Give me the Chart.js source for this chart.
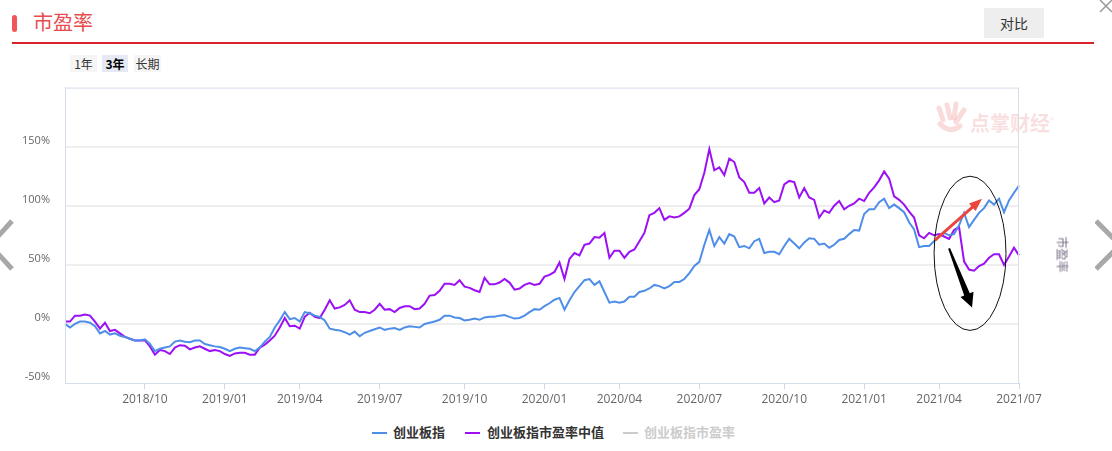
<!DOCTYPE html>
<html>
<head>
<meta charset="utf-8">
<script src="https://cdn.jsdelivr.net/npm/chart.js@4"></script>
<style>
  body { margin: 0; width: 1112px; height: 451px; background: #fff; overflow: hidden;
         font-family: "Microsoft YaHei", "Noto Sans CJK SC", sans-serif; position: relative; }
  .bar { position: absolute; left: 12px; top: 15px; width: 5px; height: 17px; border-radius: 3px; background: #f0575a; }
  .title { position: absolute; left: 33px; top: 9px; font-size: 20px; color: #e84c4f; line-height: 26px; }
  .rule { position: absolute; left: 12px; top: 42px; width: 1082px; height: 2px; background: #d9232b; }
  .cmp { position: absolute; left: 984px; top: 8px; width: 60px; height: 30px; background: #eeeeee;
         font-size: 14px; color: #333; line-height: 30px; text-align: center; }
  .tabs { position: absolute; left: 70px; top: 55px; font-size: 12px; color: #333; }
  .tabs span { position: absolute; top: 0; height: 17px; line-height: 17px; text-align: center; background: #f5f5f5; }
  .tabs .on { background: #e4e9f3; font-weight: bold; color: #000; }
  #wrap { position: absolute; left: 0; top: 66px; width: 1112px; height: 354px; }
  .mark { position: absolute; left: 970px; top: 108px; font-size: 20px; font-weight: bold; color: rgba(232,110,110,0.22); letter-spacing: 0; }
  .rlabel { position: absolute; left: 1045px; top: 246px; font-size: 12px; color: #7a6f86; transform: rotate(90deg); }
  .legend { position: absolute; top: 424px; left: 0; width: 1112px; font-size: 13px; font-weight: bold; color: #333; }
  .legend div { position: absolute; top: 0; height: 16px; line-height: 16px; }
  .legend i { position: absolute; top: 8px; width: 15px; height: 2px; }
</style>
</head>
<body>
<div class="bar"></div>
<div class="title">市盈率</div>
<div class="rule"></div>
<div class="cmp">对比</div>
<svg style="position:absolute;left:1099px;top:-1px" width="14" height="14"><path d="M1 1 L13 13 M13 1 L1 13" stroke="#999" stroke-width="1.5"/></svg>
<div class="tabs">
  <span style="left:0;width:27px">1年</span>
  <span class="on" style="left:32px;width:26px">3年</span>
  <span style="left:64px;width:27px">长期</span>
</div>
<svg style="position:absolute;left:0;top:218px" width="14" height="56"><polyline points="12,3 -10,27 12,51" fill="none" stroke="#a8a8a8" stroke-width="5"/></svg>
<svg style="position:absolute;left:1095px;top:218px" width="17" height="56"><polyline points="1,3 25,27 1,51" fill="none" stroke="#a8a8a8" stroke-width="5"/></svg>
<svg style="position:absolute;left:934px;top:100px" width="36" height="36"><g stroke="rgba(232,110,110,0.25)" stroke-width="5" stroke-linecap="round" fill="none"><path d="M5 8 L9 20"/><path d="M13 5 L16 18"/><path d="M22 4 L20 18"/><path d="M30 10 L22 22"/><path d="M6 24 Q16 34 26 26"/></g></svg>
<div class="mark">点掌财经<sup style="font-size:8px;font-weight:normal">®</sup></div>
<div id="wrap"><canvas id="pe"></canvas></div>
<div class="rlabel">市盈率</div>
<div class="legend">
  <i style="left:372px;background:#4f8ee8"></i><div style="left:393px">创业板指</div>
  <i style="left:465px;background:#9b10f5"></i><div style="left:487px">创业板指市盈率中值</div>
  <i style="left:623px;background:#cccccc"></i><div style="left:644px;color:#cccccc">创业板指市盈率</div>
</div>
<script>
// 创业板指 / 创业板指市盈率中值, % change, sampled across the 3-year window
const indexValues = [
    0, -3, 0, 2, 2, 1, -2, -8, -6, -9,
    -8, -10, -11, -12.5, -14, -14, -13, -17, -23, -21,
    -20, -19, -15, -14, -15, -15.5, -14, -14, -17, -18,
    -19, -19.5, -21, -23, -21, -20, -20.5, -21, -23, -20,
    -15, -11, -3, 3, 10, 4, 5, 2, 10, 9,
    7, 6, 3, -4, -5, -5.5, -7, -9, -6.5, -10.5,
    -7.5, -6, -4.5, -3, -5, -4, -3.5, -5, -3, -2,
    -2.5, -3, 0, 1, 2, 3.5, 7, 7, 5.5, 5,
    3, 3.5, 4.5, 3.5, 5.5, 6, 6, 7, 7.5, 6,
    4.5, 5, 7, 10, 12.5, 12, 15, 17.5, 20.5, 22,
    12, 20, 27, 32, 37, 38, 33, 36, 27, 18,
    19, 18, 19, 23, 23, 27, 28, 30, 33, 32,
    30, 32, 35.5, 35.5, 38, 43, 49, 52.5, 67, 79.5,
    66, 73.5, 68, 76, 74, 65, 66, 64, 70, 72,
    60, 61, 61, 59, 66, 72, 68, 64, 69, 72.5,
    72, 67, 68, 64.5, 67, 71, 72, 76, 79.5, 79,
    93, 97, 97, 103, 106, 98, 101, 98, 94.5, 86,
    80, 65, 66, 66, 70, 74, 77, 75, 76, 83.5,
    94, 82, 88, 94, 98, 104.5, 101, 106, 94.5, 104.5,
    111, 117
];
const medianPeValues = [
    2, 2, 7, 7, 8, 7, 2, -4, 1, -6,
    -5, -8, -11, -12.5, -14, -14, -14, -19, -26, -22,
    -23, -25.5, -20, -18, -18.5, -21.5, -20, -19, -21, -23,
    -22, -23, -25.5, -27, -25, -24.5, -24.5, -26, -26, -20,
    -17.5, -14, -10, -3, 5, -2, -1.5, -4, 6, 9.5,
    6, 5, 12, 20, 13, 14, 16, 20, 12, 10,
    10, 9, 12, 17, 12, 12.5, 10, 13.5, 15, 15,
    12.5, 13, 17, 24, 24.5, 28, 34, 34, 33, 37,
    31.5, 30.5, 28.5, 27, 39, 33.5, 33.5, 35, 38, 35,
    29, 30, 33, 34.5, 33, 34, 40, 41.5, 44, 52,
    38, 55, 60, 58, 67, 68, 73.5, 73, 77, 56,
    62, 62, 56, 61, 63, 70, 77, 92, 94, 98,
    88, 91, 90, 91, 94, 97.5, 109, 114, 128, 148,
    130, 132.5, 126, 140, 137, 124, 120, 111, 111, 115,
    102, 107, 103, 104.5, 118, 121, 120, 107, 115, 107,
    105, 90, 96, 94, 100, 104, 97, 100, 102, 106,
    104, 111, 115.5, 121.5, 129, 123, 108, 105, 101, 95,
    90, 75, 72.5, 77, 75, 76, 74, 72, 79.5, 82,
    53, 46, 45, 49, 51, 56, 59, 59, 50, 57,
    64.5, 58
];
const tickLabels = ['2018/10', '2019/01', '2019/04', '2019/07', '2019/10', '2020/01',
                    '2020/04', '2020/07', '2020/10', '2021/01', '2021/04', '2021/07'];
const tickIndex = [16, 32, 47, 63, 80, 96, 111, 127, 144, 160, 175, 191];

const labels = indexValues.map((_, i) => {
    const k = tickIndex.indexOf(i);
    return k >= 0 ? tickLabels[k] : '';
});

// hand-drawn marks on the right (in data units)
const ovalBox = { i0: 174, i1: 188.4, top: 125, bottom: -5.5 };
const redArrow = { i0: 174.2, v0: 71, i1: 183.6, v1: 106 };
const blackArrow = { i0: 177, v0: 64, i1: 181.6, v1: 14 };

const framePlugin = {
    id: 'frame',
    afterDraw(chart) {
        const { ctx, chartArea: a, scales: { x, y } } = chart;
        ctx.save();
        ctx.strokeStyle = '#d6deec';
        ctx.lineWidth = 1;
        ctx.strokeRect(a.left + 0.5, a.top + 0.5, a.right - a.left - 1, a.bottom - a.top);

        // oval
        const cx = (x.getPixelForValue(ovalBox.i0) + x.getPixelForValue(ovalBox.i1)) / 2;
        const cy = (y.getPixelForValue(ovalBox.top) + y.getPixelForValue(ovalBox.bottom)) / 2;
        const rx = (x.getPixelForValue(ovalBox.i1) - x.getPixelForValue(ovalBox.i0)) / 2;
        const ry = (y.getPixelForValue(ovalBox.bottom) - y.getPixelForValue(ovalBox.top)) / 2;
        ctx.beginPath();
        ctx.ellipse(cx, cy, rx, ry, 0, 0, Math.PI * 2);
        ctx.strokeStyle = '#111';
        ctx.lineWidth = 1;
        ctx.stroke();

        // red arrow
        let sx = x.getPixelForValue(redArrow.i0), sy = y.getPixelForValue(redArrow.v0);
        let ex = x.getPixelForValue(redArrow.i1), ey = y.getPixelForValue(redArrow.v1);
        let ang = Math.atan2(ey - sy, ex - sx);
        ctx.strokeStyle = '#e8463f';
        ctx.fillStyle = '#e8463f';
        ctx.lineWidth = 3;
        ctx.beginPath();
        ctx.moveTo(sx, sy);
        ctx.lineTo(ex - 9 * Math.cos(ang), ey - 9 * Math.sin(ang));
        ctx.stroke();
        ctx.beginPath();
        ctx.moveTo(ex, ey);
        ctx.lineTo(ex - 13 * Math.cos(ang) + 5 * Math.sin(ang), ey - 13 * Math.sin(ang) - 5 * Math.cos(ang));
        ctx.lineTo(ex - 13 * Math.cos(ang) - 5 * Math.sin(ang), ey - 13 * Math.sin(ang) + 5 * Math.cos(ang));
        ctx.closePath();
        ctx.fill();

        // black tapered arrow
        sx = x.getPixelForValue(blackArrow.i0); sy = y.getPixelForValue(blackArrow.v0);
        ex = x.getPixelForValue(blackArrow.i1); ey = y.getPixelForValue(blackArrow.v1);
        ang = Math.atan2(ey - sy, ex - sx);
        const len = Math.hypot(ex - sx, ey - sy);
        const px = -Math.sin(ang), py = Math.cos(ang);
        const mx = sx + Math.cos(ang) * len * 0.78, my = sy + Math.sin(ang) * len * 0.78;
        ctx.fillStyle = '#000';
        ctx.beginPath();
        ctx.moveTo(sx - px * 1, sy - py * 1);
        ctx.lineTo(mx - px * 3, my - py * 3);
        ctx.lineTo(mx - px * 7, my - py * 7);
        ctx.lineTo(ex, ey);
        ctx.lineTo(mx + px * 7, my + py * 7);
        ctx.lineTo(mx + px * 3, my + py * 3);
        ctx.lineTo(sx + px * 1, sy + py * 1);
        ctx.closePath();
        ctx.fill();
        ctx.restore();
    }
};

new Chart(document.getElementById('pe'), {
    type: 'line',
    data: {
        labels,
        datasets: [
            { label: '创业板指', data: indexValues, borderColor: '#4f8ee8', borderWidth: 2, pointRadius: 0, tension: 0 },
            { label: '创业板指市盈率中值', data: medianPeValues, borderColor: '#9b10f5', borderWidth: 2, pointRadius: 0, tension: 0 }
        ]
    },
    options: {
        responsive: true, maintainAspectRatio: false, animation: false,
        layout: { padding: { left: 10, right: 93, top: 7, bottom: 7 } },
        plugins: { legend: { display: false }, tooltip: { enabled: false } },
        scales: {
            x: {
                offset: false,
                grid: { drawOnChartArea: false, tickLength: 6, color: c => labels[c.index] ? '#ccd6eb' : 'rgba(0,0,0,0)' },
                border: { color: '#ccd6eb' },
                ticks: { autoSkip: false, maxRotation: 0, padding: 3, color: '#666', font: { size: 12, family: 'Open Sans, sans-serif' } },
                afterFit: s => { s.height = 30; }
            },
            y: {
                min: -50, max: 200,
                grid: { drawTicks: false, lineWidth: 2, color: c => (c.tick.value === -50 || c.tick.value === 200) ? 'rgba(0,0,0,0)' : '#eeeeee' },
                border: { color: '#ccd6eb' },
                ticks: { stepSize: 50, padding: 15, labelOffset: -6, color: '#666', font: { size: 11, family: 'Open Sans, sans-serif' },
                         callback: v => v === 200 ? '' : v + '%' },
                afterFit: s => { s.width = 55; }
            }
        }
    },
    plugins: [framePlugin]
});
</script>
</body>
</html>
